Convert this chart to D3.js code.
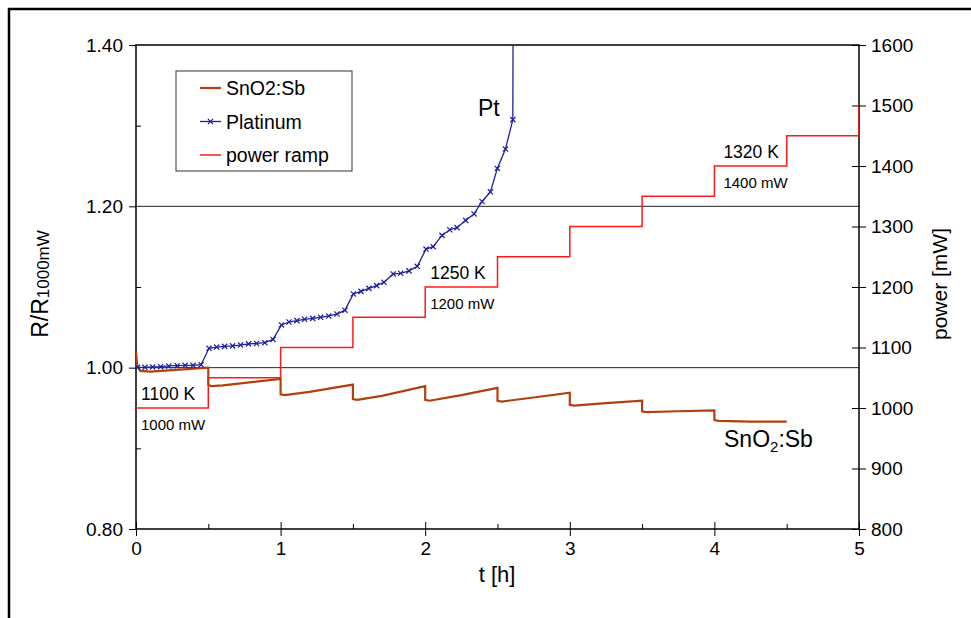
<!DOCTYPE html>
<html>
<head>
<meta charset="utf-8">
<script src="https://cdn.jsdelivr.net/npm/d3@7"></script>
<style>
  body { margin: 0; background: #fff; }
  svg text { font-family: "Liberation Sans", Arial, sans-serif; fill: #000; }
</style>
</head>
<body>
<div id="chart"></div>
<script>
// Power ramp (right axis, mW)
const powerTimes = [0, 0.5, 1, 1.5, 2, 2.5, 3, 3.5, 4, 4.5, 5];
const powerValues = [1000, 1050, 1100, 1150, 1200, 1250, 1300, 1350, 1400, 1450, 1500];

// SnO2:Sb sensor, R/R1000mW
const snTimes = [0, 0.008, 0.03, 0.1, 0.25, 0.5,
    0.5, 0.52, 0.6, 0.8, 1.0,
    1.0, 1.03, 1.2, 1.5,
    1.5, 1.53, 1.7, 2.0,
    2.0, 2.03, 2.25, 2.5,
    2.5, 2.53, 2.75, 3.0,
    3.0, 3.03, 3.25, 3.5,
    3.5, 3.53, 3.75, 4.0,
    4.0, 4.03, 4.25, 4.5];
const snValues = [1.020, 1.003, 0.996, 0.995, 0.997, 1.000,
    0.979, 0.977, 0.978, 0.982, 0.986,
    0.967, 0.966, 0.970, 0.979,
    0.961, 0.960, 0.965, 0.977,
    0.960, 0.959, 0.966, 0.975,
    0.959, 0.958, 0.963, 0.969,
    0.954, 0.953, 0.956, 0.959,
    0.946, 0.945, 0.946, 0.947,
    0.935, 0.934, 0.933, 0.933];

// Platinum reference, R/R1000mW
const ptTimes = [0.01, 0.062, 0.115, 0.17, 0.227, 0.285, 0.34, 0.395, 0.45,
    0.505, 0.558, 0.613, 0.668, 0.723, 0.778, 0.834, 0.891, 0.948,
    1.006, 1.058, 1.113, 1.166, 1.222, 1.277, 1.333, 1.39, 1.445,
    1.503, 1.556, 1.611, 1.664, 1.715, 1.779, 1.83, 1.888, 1.945,
    2.006, 2.055, 2.116, 2.17, 2.22, 2.28, 2.338, 2.393, 2.451,
    2.499, 2.555, 2.606, 2.612];
const ptValues = [1.0004, 1.0004, 1.0009, 1.0012, 1.0021, 1.0025, 1.0029, 1.0029, 1.0037,
    1.024, 1.0255, 1.0264, 1.027, 1.028, 1.0295, 1.030, 1.031, 1.035,
    1.053, 1.0566, 1.0583, 1.0599, 1.0611, 1.0624, 1.0641, 1.0665, 1.0713,
    1.0914, 1.0946, 1.0983, 1.1017, 1.1058, 1.1162, 1.117, 1.120, 1.1256,
    1.147, 1.150, 1.164, 1.171, 1.1736, 1.1826, 1.1906, 1.206, 1.218,
    1.247, 1.271, 1.3075, 1.70];

// Axis ticks
const xTicks = [0, 1, 2, 3, 4, 5];
const xMinorTicks = [0.5, 1.5, 2.5, 3.5, 4.5];
const leftTicks = [0.8, 1.0, 1.2, 1.4];
const leftMinorTicks = [0.9, 1.1, 1.3];
const rightTicks = [800, 900, 1000, 1100, 1200, 1300, 1400, 1500, 1600];
const gridValues = [1.0, 1.2];

// Temperature / power annotations
const stepTimes = [0, 2, 4];
const stepPowers = [1000, 1200, 1400];
const tempLabels = ["1100 K", "1250 K", "1320 K"];
const powerLabels = ["1000 mW", "1200 mW", "1400 mW"];

const legendNames = ["SnO2:Sb", "Platinum", "power ramp"];

const colors = { sn: "#b3400c", pt: "#1f1fa0", power: "#ff1a1a" };

function drawChart() {
    const W = 971, H = 618;
    const plot = { left: 136, right: 859, top: 45, bottom: 529 };

    const svg = d3.select("#chart")
        .append("svg")
        .attr("width", W)
        .attr("height", H);

    // Outer frame (right and bottom edges fall outside the picture)
    svg.append("rect")
        .attr("x", 9).attr("y", 9)
        .attr("width", 1100).attr("height", 800)
        .attr("fill", "none")
        .attr("stroke", "#000")
        .attr("stroke-width", 2.5);

    // Scales
    const x = d3.scaleLinear().domain([0, 5]).range([plot.left, plot.right]);
    const yL = d3.scaleLinear().domain([0.8, 1.4]).range([plot.bottom, plot.top]);
    const yR = d3.scaleLinear().domain([800, 1600]).range([plot.bottom, plot.top]);

    // Clip
    svg.append("clipPath").attr("id", "clip")
        .append("rect")
        .attr("x", plot.left).attr("y", plot.top)
        .attr("width", plot.right - plot.left)
        .attr("height", plot.bottom - plot.top);

    // Horizontal grid lines
    svg.selectAll("line.grid")
        .data(gridValues)
        .enter()
        .append("line")
        .attr("class", "grid")
        .attr("x1", plot.left).attr("x2", plot.right)
        .attr("y1", d => yL(d)).attr("y2", d => yL(d))
        .attr("stroke", "#222")
        .attr("stroke-width", 1);

    const tickFont = g => g.selectAll("text")
        .style("font-size", "19px")
        .style("font-family", "'Liberation Sans', Arial, sans-serif");

    // Left axis
    svg.append("g")
        .attr("transform", `translate(${plot.left},0)`)
        .call(d3.axisLeft(yL).tickValues(leftTicks).tickSize(7).tickPadding(6).tickFormat(d3.format(".2f")))
        .call(g => g.select(".domain").remove())
        .call(tickFont);
    svg.append("g")
        .attr("transform", `translate(${plot.left},0)`)
        .call(d3.axisLeft(yL).tickValues(leftMinorTicks).tickSize(-5).tickFormat(""))
        .call(g => g.select(".domain").remove());

    // Right axis (ticks cross the axis line)
    svg.append("g")
        .attr("transform", `translate(${plot.right},0)`)
        .call(d3.axisRight(yR).tickValues(rightTicks).tickSize(7).tickPadding(5).tickFormat(d3.format("d")))
        .call(g => g.select(".domain").remove())
        .call(tickFont);
    svg.append("g")
        .attr("transform", `translate(${plot.right},0)`)
        .call(d3.axisRight(yR).tickValues(rightTicks).tickSize(-7).tickFormat(""))
        .call(g => g.select(".domain").remove());

    // Bottom axis
    svg.append("g")
        .attr("transform", `translate(0,${plot.bottom})`)
        .call(d3.axisBottom(x).tickValues(xTicks).tickSize(7).tickPadding(6).tickFormat(d3.format("d")))
        .call(g => g.select(".domain").remove())
        .call(tickFont);
    svg.append("g")
        .attr("transform", `translate(0,${plot.bottom})`)
        .call(d3.axisBottom(x).tickValues(xTicks).tickSize(-7).tickFormat(""))
        .call(g => g.select(".domain").remove());
    svg.append("g")
        .attr("transform", `translate(0,${plot.bottom})`)
        .call(d3.axisBottom(x).tickValues(xMinorTicks).tickSize(-5).tickFormat(""))
        .call(g => g.select(".domain").remove());

    // Plot frame
    svg.append("rect")
        .attr("x", plot.left).attr("y", plot.top)
        .attr("width", plot.right - plot.left)
        .attr("height", plot.bottom - plot.top)
        .attr("fill", "none")
        .attr("stroke", "#000")
        .attr("stroke-width", 1.5);

    const series = svg.append("g").attr("clip-path", "url(#clip)");

    // Power ramp
    const powerData = powerTimes.map((t, i) => ({ t: t, v: powerValues[i] }));
    series.append("path")
        .datum(powerData)
        .attr("fill", "none")
        .attr("stroke", colors.power)
        .attr("stroke-width", 1.5)
        .attr("d", d3.line().curve(d3.curveStepAfter).x(d => x(d.t)).y(d => yR(d.v)));

    // SnO2:Sb
    const snData = snTimes.map((t, i) => ({ t: t, v: snValues[i] }));
    series.append("path")
        .datum(snData)
        .attr("fill", "none")
        .attr("stroke", colors.sn)
        .attr("stroke-width", 2.2)
        .attr("d", d3.line().x(d => x(d.t)).y(d => yL(d.v)));

    // Platinum
    const ptData = ptTimes.map((t, i) => ({ t: t, v: ptValues[i] }));
    series.append("path")
        .datum(ptData)
        .attr("fill", "none")
        .attr("stroke", colors.pt)
        .attr("stroke-width", 1.3)
        .attr("d", d3.line().x(d => x(d.t)).y(d => yL(d.v)));

    const cross = "M-2.6,-2.6L2.6,2.6M-2.6,2.6L2.6,-2.6";
    series.selectAll("path.marker")
        .data(ptData)
        .enter()
        .append("path")
        .attr("class", "marker")
        .attr("d", cross)
        .attr("transform", d => `translate(${x(d.t)},${yL(d.v)})`)
        .attr("stroke", colors.pt)
        .attr("stroke-width", 1.2)
        .attr("fill", "none");

    // Step annotations
    stepTimes.forEach((t, i) => {
        const lx = x(t) + (i === 2 ? 9 : 5);
        svg.append("text")
            .attr("x", lx)
            .attr("y", yR(stepPowers[i]) - 8)
            .style("font-size", "17.5px")
            .text(tempLabels[i]);
        svg.append("text")
            .attr("x", lx)
            .attr("y", yR(stepPowers[i]) + 22)
            .style("font-size", "15px")
            .text(powerLabels[i]);
    });

    // Curve labels
    svg.append("text")
        .attr("x", 478).attr("y", 116)
        .style("font-size", "23px")
        .text("Pt");

    const snLabel = svg.append("text")
        .attr("x", 724).attr("y", 447)
        .style("font-size", "23px");
    snLabel.append("tspan").text("SnO");
    snLabel.append("tspan").attr("dy", 5).style("font-size", "15px").text("2");
    snLabel.append("tspan").attr("dy", -5).text(":Sb");

    // Axis titles
    svg.append("text")
        .attr("x", 497).attr("y", 582)
        .attr("text-anchor", "middle")
        .style("font-size", "22px")
        .text("t [h]");

    const yTitle = svg.append("text")
        .attr("transform", "translate(48,284) rotate(-90)")
        .attr("text-anchor", "middle");
    yTitle.append("tspan").style("font-size", "23px").text("R/R");
    yTitle.append("tspan").attr("dy", 1).style("font-size", "17px").text("1000mW");

    svg.append("text")
        .attr("transform", "translate(947,284) rotate(-90)")
        .attr("text-anchor", "middle")
        .style("font-size", "21px")
        .text("power [mW]");

    // Legend
    const legend = svg.append("g");
    legend.append("rect")
        .attr("x", 176).attr("y", 71)
        .attr("width", 176).attr("height", 100)
        .attr("fill", "#fff")
        .attr("stroke", "#333")
        .attr("stroke-width", 1);

    const legendColors = [colors.sn, colors.pt, colors.power];
    const legendWidths = [2.2, 1.3, 1.5];
    legendNames.forEach((name, i) => {
        const ly = 88 + i * 33.5;
        legend.append("line")
            .attr("x1", 200).attr("x2", 221)
            .attr("y1", ly).attr("y2", ly)
            .attr("stroke", legendColors[i])
            .attr("stroke-width", legendWidths[i]);
        if (i === 1) {
            legend.append("path")
                .attr("d", cross)
                .attr("transform", `translate(210.5,${ly})`)
                .attr("stroke", colors.pt)
                .attr("stroke-width", 1.2);
        }
        legend.append("text")
            .attr("x", 226).attr("y", ly + 7)
            .style("font-size", "19.5px")
            .text(name);
    });
}

drawChart();
</script>
</body>
</html>
